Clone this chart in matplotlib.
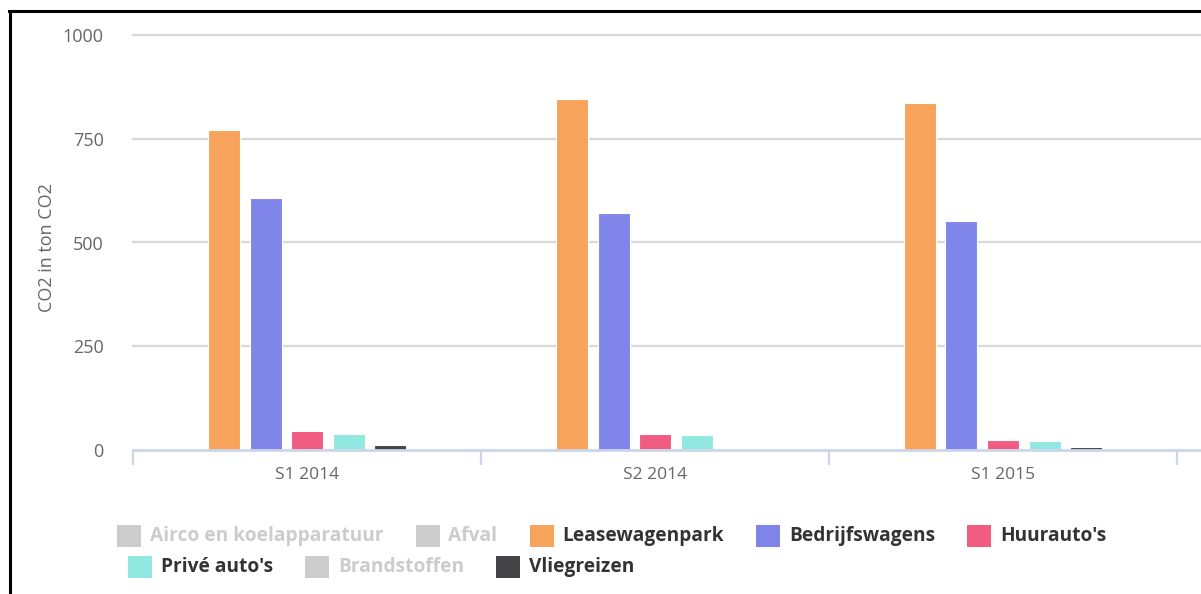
import matplotlib as mpl
import matplotlib.pyplot as plt
from matplotlib.lines import Line2D
from matplotlib.patches import Rectangle

mpl.use('Agg')

categories = ["S1 2014", "S2 2014", "S1 2015"]
series_names = ["Airco en koelapparatuur", "Afval", "Leasewagenpark", "Bedrijfswagens",
                "Huurauto's", "Privé auto's", "Brandstoffen", "Vliegreizen"]
series_colors = ["#7cb5ec", "#434348", "#f7a35c", "#8085e9",
                 "#f15c80", "#91e8e1", "#e4d354", "#434348"]
series_visible = [False, False, True, True, True, True, False, True]

leasewagenpark = [770, 845, 835]
bedrijfswagens = [608, 572, 553]
huurautos = [46, 38, 24]
prive_autos = [38, 35, 21]
vliegreizen = [13, 0, 7]
visible_values = [leasewagenpark, bedrijfswagens, huurautos, prive_autos, vliegreizen]

y_ticks = [0, 250, 500, 750, 1000]

W, H = 1201, 594
fig = plt.figure(figsize=(W / 100, H / 100), dpi=100)
plt.rcParams['font.family'] = ['Open Sans', 'DejaVu Sans']

left, right, bottom, top = 133, 1201, 450, 35
ax = fig.add_axes([left / W, 1 - bottom / H, (right - left) / W, (bottom - top) / H])
ax.set_ylim(0, 1000)
span = (right - left) / 348.0
ax.set_xlim(-0.5, -0.5 + span)

visible_colors = [c for c, v in zip(series_colors, series_visible) if v]
pitch = 41.5 / 348
width = 32 / 348
n = len(visible_values)
for i, (vals, col) in enumerate(zip(visible_values, visible_colors)):
    offs = (i - (n - 1) / 2) * pitch
    xs = [k + offs for k in range(len(categories))]
    ax.bar(xs, vals, width=width, color=col, edgecolor='white', linewidth=0.8, zorder=3)

for s in ax.spines.values():
    s.set_visible(False)
ax.axhline(0, color='#ccd6eb', lw=2, zorder=4, clip_on=False)
for t in y_ticks[1:]:
    ax.axhline(t, color='#d8d8d8', lw=1.6, zorder=1, clip_on=False)

ax.set_yticks(y_ticks)
ax.set_yticklabels([str(t) for t in y_ticks])
ax.tick_params(axis='y', length=0, pad=21, labelsize=13, labelcolor='#666666')

bounds = [k - 0.5 for k in range(len(categories) + 1)]
ax.set_xticks(bounds)
ax.set_xticklabels([])
ax.tick_params(axis='x', which='major', length=11, width=1.6, color='#ccd6eb')
ax.set_xticks(range(len(categories)), minor=True)
ax.set_xticklabels(categories, minor=True)
ax.tick_params(axis='x', which='minor', length=0, pad=12, labelsize=12.5, labelcolor='#666666')

fig.text(47 / W, 1 - 248 / H, "CO2 in ton CO2", rotation=90, ha='center', va='center',
         fontsize=13, color='#666666')

# legend, laid out by hand in two rows
renderer = fig.canvas.get_renderer()
rows = [(117, 536, series_names[:5], series_colors[:5], series_visible[:5]),
        (128, 567, series_names[5:], series_colors[5:], series_visible[5:])]
for x0, yc, names, cols, vis in rows:
    x = x0
    for name, col, v in zip(names, cols, vis):
        fig.add_artist(Rectangle((x / W, 1 - (yc + 11) / H), 24 / W, 22 / H,
                                 transform=fig.transFigure,
                                 facecolor=col if v else '#cccccc', edgecolor='none'))
        t = fig.text((x + 33) / W, 1 - yc / H, name, ha='left', va='center',
                     fontsize=13.8, fontweight='bold', color='#333333' if v else '#cccccc')
        bb = t.get_window_extent(renderer)
        x = x + 33 + bb.width + 32

# container frame
fig.add_artist(Line2D([10 / W, 10 / W], [0, 1 - 11 / H], color='black', lw=2.2,
                      transform=fig.transFigure))
fig.add_artist(Line2D([9 / W, 1], [1 - 11 / H, 1 - 11 / H], color='black', lw=2.2,
                      transform=fig.transFigure))

fig.savefig('out.png', dpi=100)
